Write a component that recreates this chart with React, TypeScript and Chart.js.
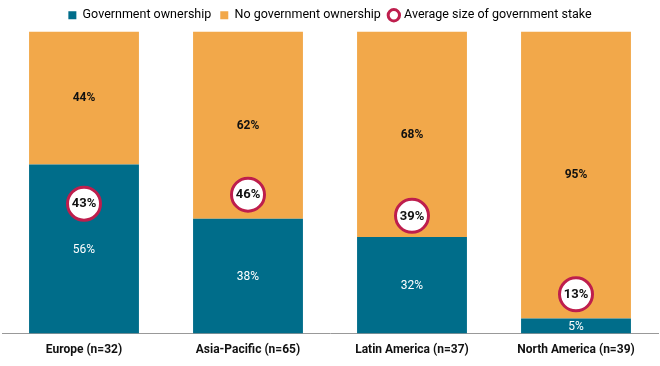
import React, { useEffect, useRef } from "react";
import { Chart, registerables } from "chart.js";

Chart.register(...registerables);

const categories = ["Europe (n=32)", "Asia-Pacific (n=65)", "Latin America (n=37)", "North America (n=39)"];
const govOwnership = [56, 38, 32, 5];
const noGovOwnership = [44, 62, 68, 95];
const avgStake = [43, 46, 39, 13];

const TEAL = "#006d8a";
const ORANGE = "#f2a84a";
const CRIMSON = "#be1e4d";
const FONT = "Roboto, 'Liberation Sans', sans-serif";

const labelPlugin = {
  id: "valueLabels",
  afterDatasetsDraw(chart: any) {
    const ctx = chart.ctx;
    ctx.save();
    ctx.textAlign = "center";
    ctx.textBaseline = "middle";
    chart.data.datasets.forEach((ds: any, di: number) => {
      const meta = chart.getDatasetMeta(di);
      meta.data.forEach((el: any, i: number) => {
        const v = ds.data[i];
        if (ds.type === "line") {
          ctx.fillStyle = "#111";
          ctx.font = `bold 13px ${FONT}`;
          ctx.fillText(v + "%", el.x, el.y + 0.5);
        } else {
          const y = (el.y + el.base) / 2;
          if (di === 0) {
            ctx.fillStyle = "#ffffff";
            ctx.font = `12px ${FONT}`;
          } else {
            ctx.fillStyle = "#111";
            ctx.font = `bold 12px ${FONT}`;
          }
          ctx.fillText(v + "%", el.x, y + 0.5);
        }
      });
    });
    ctx.restore();
  },
};

export default function App() {
  const ref = useRef<HTMLCanvasElement>(null);
  useEffect(() => {
    document.body.style.margin = "0";
    const chart = new Chart(ref.current!, {
      type: "bar",
      data: {
        labels: categories,
        datasets: [
          {
            type: "bar",
            label: "Government ownership",
            data: govOwnership,
            backgroundColor: TEAL,
            stack: "s",
            order: 2,
            barPercentage: 0.67,
            categoryPercentage: 1,
          } as any,
          {
            type: "bar",
            label: "No government ownership",
            data: noGovOwnership,
            backgroundColor: ORANGE,
            stack: "s",
            order: 2,
            barPercentage: 0.67,
            categoryPercentage: 1,
          } as any,
          {
            type: "line",
            label: "Average size of government stake",
            data: avgStake,
            stack: "avg",
            showLine: false,
            order: 0,
            pointRadius: 16.5,
            pointHoverRadius: 16.5,
            pointBorderWidth: 3,
            pointBackgroundColor: "#ffffff",
            pointBorderColor: CRIMSON,
            backgroundColor: "#ffffff",
            borderColor: CRIMSON,
          } as any,
        ],
      },
      options: {
        responsive: false,
        animation: false,
        layout: { autoPadding: false, padding: { left: 2, right: 2, top: 0, bottom: 0 } },
        plugins: {
          tooltip: { enabled: false },
          legend: {
            position: "top",
            labels: {
              font: { family: FONT, size: 12.5 },
              color: "#222",
              padding: 9,
              boxWidth: 8,
              boxHeight: 8,
              usePointStyle: true,
              generateLabels: () => [
                { text: "Government ownership", fillStyle: TEAL, strokeStyle: TEAL, lineWidth: 0, pointStyle: "rect", datasetIndex: 0 },
                { text: "No government ownership", fillStyle: ORANGE, strokeStyle: ORANGE, lineWidth: 0, pointStyle: "rect", datasetIndex: 1 },
                { text: "Average size of government stake", fillStyle: "#ffffff", strokeStyle: CRIMSON, lineWidth: 3, pointStyle: "circle", datasetIndex: 2 },
              ] as any,
            },
          },
        },
        scales: {
          x: {
            stacked: true,
            grid: { display: false, drawTicks: false },
            border: { display: true, color: "#999", width: 1 },
            ticks: { font: { family: FONT, size: 12, weight: "bold" }, color: "#111", padding: 9 },
            afterFit: (scale: any) => {
              scale.paddingLeft = 0;
              scale.paddingRight = 0;
            },
          },
          y: {
            stacked: true,
            display: false,
            min: 0,
            max: 100,
          },
        },
      } as any,
      plugins: [labelPlugin],
    });
    return () => chart.destroy();
  }, []);
  return <canvas ref={ref} width={660} height={366} style={{ display: "block" }} />;
}
